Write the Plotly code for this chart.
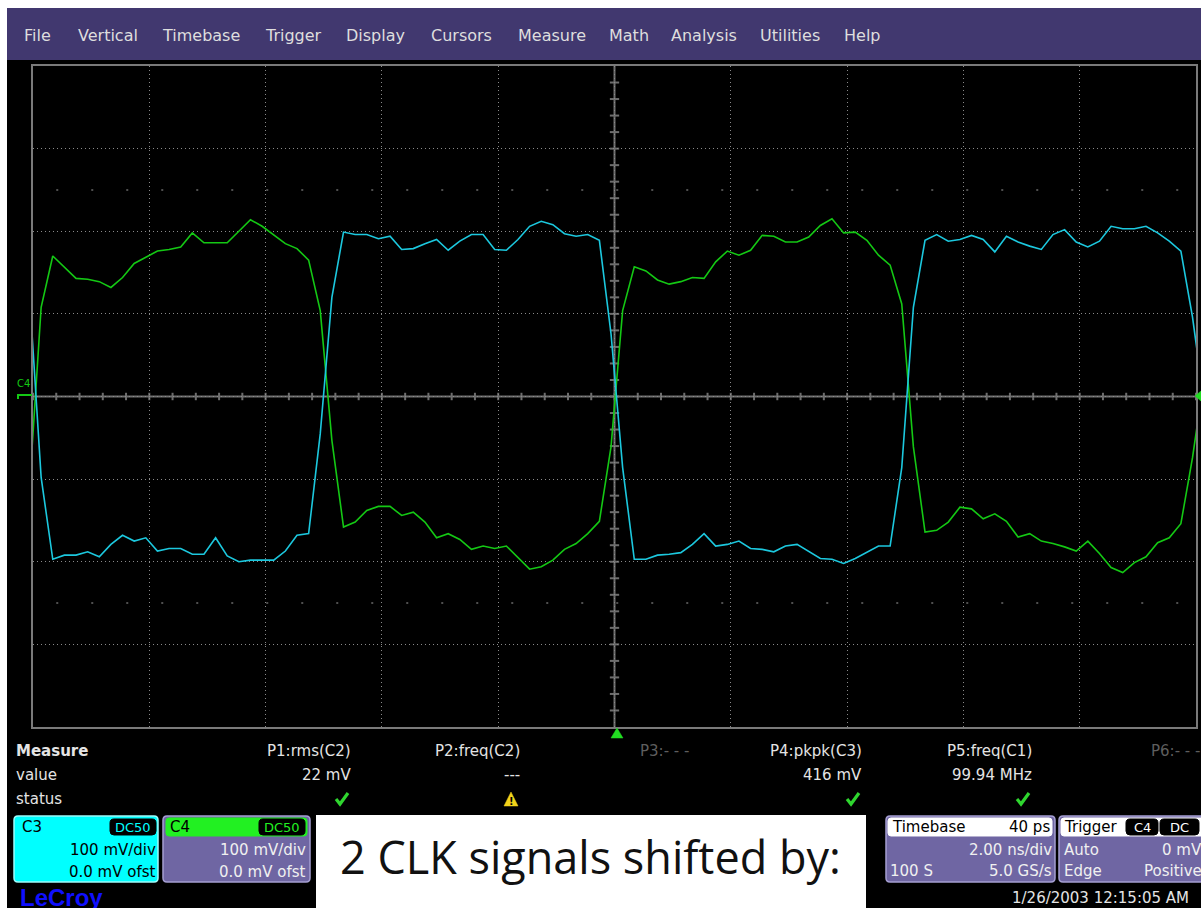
import plotly.graph_objects as go

W, H = 1201, 908

# ---- acquisition: 5 GS/s, 0.2 ns per sample, first sample sits just left of the screen
T_FIRST_NS = -10.06
T_STEP_NS = 0.2

# C3 (cyan) samples in mV
c3_mv = [124,
         -98, -197, -192, -192, -188, -194, -179, -168, -175, -171,
         -187, -184, -184, -191, -191, -171, -193, -200, -198, -198,
         -198, -187, -168, -166, -45, 120, 199, 196, 196, 191,
         194, 178, 179, 185, 190, 177, 188, 196, 196, 178,
         177, 190, 206, 212, 208, 197, 194, 196, 189, 76,
         -86, -197, -197, -192, -191, -189, -179, -166, -181, -179,
         -175, -184, -185, -188, -181, -179, -187, -196, -197, -202,
         -196, -189, -181, -181, -86, 108, 189, 196, 188, 190,
         195, 190, 175, 194, 187, 182, 178, 196, 202, 187,
         181, 188, 206, 203, 203, 206, 198, 188, 176, 96,
         -7]

# C4 (green) samples in mV
c4_mv = [-110,
         108, 170, 157, 143, 142, 139, 132, 144, 161, 169,
         176, 178, 181, 198, 186, 186, 186, 200, 214, 206,
         196, 185, 179, 165, 104, -53, -158, -152, -138, -133,
         -133, -144, -140, -152, -171, -166, -173, -185, -181, -184,
         -181, -195, -209, -206, -198, -185, -178, -166, -151, -61,
         104, 157, 152, 141, 136, 139, 144, 143, 163, 176,
         171, 177, 195, 194, 187, 187, 193, 207, 215, 198,
         199, 189, 171, 159, 112, -61, -164, -162, -152, -134,
         -136, -148, -142, -151, -170, -166, -175, -178, -182, -187,
         -175, -190, -207, -213, -201, -194, -177, -171, -154, -74,
         23]

t_ns = [T_FIRST_NS + T_STEP_NS * i for i in range(len(c3_mv))]

# screen: 10 x 8 divisions, 2 ns/div and 100 mV/div
X_RANGE = [-10, 10]
Y_RANGE = [-400, 400]
# faint dotted reference rows
REF_ROWS_MV = [250, -250]

menu_items = ["File", "Vertical", "Timebase", "Trigger", "Display", "Cursors",
              "Measure", "Math", "Analysis", "Utilities", "Help"]
menu_centers = [37, 108, 201, 293, 375, 461, 552, 629, 704, 790, 862]

param_names = ["P1:rms(C2)", "P2:freq(C2)", "P3:- - -", "P4:pkpk(C3)", "P5:freq(C1)", "P6:- - -"]
param_values = ["22 mV", "---", "", "416 mV", "99.94 MHz", ""]
param_status = ["ok", "warn", "", "ok", "ok", ""]
param_right = [352, 521, 690, 863, 1033, 1201]

GRID_COL = "#8a8a8a"
AXIS_COL = "#6e6e6e"
CYAN = "#1cc8de"
GREEN = "#14c814"
MENU_BG = "#41386f"
PANEL = "#6f66a3"
UI_FONT = "DejaVu Sans"


def fx(x):
    return x / W


def fy(y):
    return 1 - y / H


def P(x, y):
    return f"{fx(x):.5f},{fy(y):.5f}"


shapes = []
annotations = []


def rect(x0, y0, x1, y1, fill, line=None, lw=0, layer="above"):
    shapes.append(dict(type="rect", xref="paper", yref="paper",
                       x0=fx(x0), x1=fx(x1), y0=fy(y1), y1=fy(y0),
                       fillcolor=fill, line=dict(color=line or fill, width=lw),
                       layer=layer))


def rrect(x0, y0, x1, y1, r, fill, line=None, lw=1):
    path = (f"M{P(x0 + r, y0)} L{P(x1 - r, y0)} Q{P(x1, y0)} {P(x1, y0 + r)} "
            f"L{P(x1, y1 - r)} Q{P(x1, y1)} {P(x1 - r, y1)} L{P(x0 + r, y1)} "
            f"Q{P(x0, y1)} {P(x0, y1 - r)} L{P(x0, y0 + r)} Q{P(x0, y0)} {P(x0 + r, y0)} Z")
    shapes.append(dict(type="path", xref="paper", yref="paper", path=path,
                       fillcolor=fill, line=dict(color=line or fill, width=lw),
                       layer="above"))


def poly(points, fill):
    path = "M" + " L".join(P(x, y) for x, y in points) + " Z"
    shapes.append(dict(type="path", xref="paper", yref="paper", path=path,
                       fillcolor=fill, line=dict(color=fill, width=0.5), layer="above"))


def check_mark(cx, cy, color="#2fd62f"):
    path = f"M{P(cx - 6, cy)} L{P(cx - 2, cy + 5)} L{P(cx + 6, cy - 6)}"
    shapes.append(dict(type="path", xref="paper", yref="paper", path=path,
                       line=dict(color=color, width=3.2), layer="above"))


def text(x, y, s, size=15, color="#e4e4e4", anchor="left", family=UI_FONT, yanchor="middle"):
    annotations.append(dict(x=fx(x), y=fy(y), xref="paper", yref="paper", text=s,
                            showarrow=False, xanchor=anchor, yanchor=yanchor,
                            font=dict(family=family, size=size, color=color),
                            borderpad=0))


# ---- page frame
rect(0, 0, W, 8, "#ffffff")
rect(0, 8, W, 60, MENU_BG)
rect(0, 8, 7, H, "#ffffff")
for name, cx in zip(menu_items, menu_centers):
    text(cx, 35, name, size=16, color="#dedede", anchor="center")

# ---- centre axes with 0.2 div ticks
shapes.append(dict(type="line", xref="x", yref="y", x0=X_RANGE[0], x1=X_RANGE[1], y0=0, y1=0,
                   line=dict(color=AXIS_COL, width=2), layer="below"))
shapes.append(dict(type="line", xref="x", yref="y", x0=0, x1=0, y0=Y_RANGE[0], y1=Y_RANGE[1],
                   line=dict(color=AXIS_COL, width=2), layer="below"))
for i in range(-49, 50):
    tx = i * 0.4
    shapes.append(dict(type="line", xref="x", yref="y", x0=tx, x1=tx, y0=-4.5, y1=4.5,
                       line=dict(color=AXIS_COL, width=2), layer="below"))
for i in range(-19, 20):
    ty = i * 20
    shapes.append(dict(type="line", xref="x", yref="y", x0=-0.08, x1=0.08, y0=ty, y1=ty,
                       line=dict(color=AXIS_COL, width=2), layer="below"))
for ry in REF_ROWS_MV:
    shapes.append(dict(type="line", xref="x", yref="y", x0=X_RANGE[0] + 0.4, x1=X_RANGE[1], y0=ry, y1=ry,
                       line=dict(color="#6a6a6a", width=1.5, dash="2px,33px"), layer="below"))

# ---- channel level marker (C4) on the left, trigger markers
text(23, 383, "C4", size=10, color=GREEN, anchor="center")
shapes.append(dict(type="path", xref="paper", yref="paper",
                   path=f"M{P(18, 399)} L{P(18, 395)} L{P(32, 395)}",
                   line=dict(color=GREEN, width=2), layer="above"))
poly([(611, 738), (623, 738), (617, 728)], "#22dd22")
poly([(1201, 391), (1201, 401), (1195, 396)], "#22dd22")

# ---- measurement table
text(15, 751, "<b>Measure</b>", size=15)
text(15, 775, "value", size=15)
text(15, 799, "status", size=15)
for name, val, st, xr in zip(param_names, param_values, param_status, param_right):
    dim = name.endswith("- - -")
    text(xr, 751, name, size=15, color="#5e5e5e" if dim else "#e4e4e4", anchor="right")
    if val:
        text(xr, 775, val, size=15, anchor="right")
    if st == "ok":
        check_mark(xr - 10, 799)
    elif st == "warn":
        poly([(504, 806), (518, 806), (511, 792)], "#f2d21a")
        text(511, 801, "<b>!</b>", size=10, color="#000000", anchor="center")

# ---- channel descriptor boxes
rrect(14, 816, 158, 882, 4, "#00ffff", "#9ffcfc", 1.5)
text(21, 827, "C3", size=15, color="#000000")
rrect(110, 819, 156, 835, 4, "#000000")
text(133, 827, "DC50", size=13, color="#00ffff", anchor="center")
text(157, 850, "100 mV/div", size=15, color="#000000", anchor="right")
text(157, 872, "0.0 mV ofst", size=15, color="#000000", anchor="right")

rrect(163, 816, 310, 882, 4, PANEL, "#a59fd2", 1.5)
rrect(166, 818, 307, 836, 3, "#22f022")
text(169, 827, "C4", size=15, color="#000000")
rrect(259, 819, 305, 835, 4, "#000000")
text(282, 827, "DC50", size=13, color="#22f022", anchor="center")
text(307, 850, "100 mV/div", size=15, color="#f0f0f0", anchor="right")
text(307, 872, "0.0 mV ofst", size=15, color="#f0f0f0", anchor="right")

text(19, 897, "<b>LeCroy</b>", size=24, color="#1010ff", family="Liberation Sans")

# ---- timebase / trigger boxes
rrect(886, 816, 1055, 882, 4, PANEL, "#a59fd2", 1.5)
rrect(888, 818, 1052, 836, 3, "#ffffff")
text(891, 827, "Timebase", size=15, color="#000000")
text(1051, 827, "40 ps", size=15, color="#000000", anchor="right")
text(1053, 850, "2.00 ns/div", size=15, color="#f0f0f0", anchor="right")
text(889, 871, "100 S", size=15, color="#f0f0f0")
text(1053, 871, "5.0 GS/s", size=15, color="#f0f0f0", anchor="right")

rrect(1059, 816, 1215, 882, 4, PANEL, "#a59fd2", 1.5)
rrect(1061, 818, 1212, 836, 3, "#ffffff")
text(1063, 827, "Trigger", size=15, color="#000000")
rrect(1126, 819, 1158, 835, 4, "#000000")
text(1142, 827, "C4", size=13, color="#ffffff", anchor="center")
rrect(1160, 819, 1199, 835, 4, "#000000")
text(1179, 827, "DC", size=13, color="#ffffff", anchor="center")
text(1063, 850, "Auto", size=15, color="#f0f0f0")
text(1203, 850, "0 mV", size=15, color="#f0f0f0", anchor="right")
text(1063, 871, "Edge", size=15, color="#f0f0f0")
text(1203, 871, "Positive", size=15, color="#f0f0f0", anchor="right")

text(1100, 898, "1/26/2003 12:15:05 AM", size=15, color="#e4e4e4", anchor="center")

# ---- caption box
rect(316, 815, 866, H + 2, "#ffffff")
text(590, 856, "2 CLK signals shifted by:", size=45, color="#111111", anchor="center",
     family="Open Sans")

# ---- waveforms
fig = go.Figure()
fig.add_trace(go.Scatter(x=t_ns, y=c4_mv, mode="lines", name="C4",
                         line=dict(color=GREEN, width=1.6), hoverinfo="skip"))
fig.add_trace(go.Scatter(x=t_ns, y=c3_mv, mode="lines", name="C3",
                         line=dict(color=CYAN, width=1.6), hoverinfo="skip"))

fig.update_layout(
    width=W, height=H,
    margin=dict(l=0, r=0, t=0, b=0),
    paper_bgcolor="#000000",
    plot_bgcolor="#000000",
    showlegend=False,
    shapes=shapes,
    annotations=annotations,
    xaxis=dict(domain=[fx(33), fx(1196)], range=X_RANGE, dtick=2, tick0=0,
               showticklabels=False, ticks="", zeroline=False,
               showgrid=True, gridcolor=GRID_COL, gridwidth=1, griddash="1px,3px",
               showline=True, linecolor="#7a7a7a", linewidth=1.5, mirror=True,
               fixedrange=True),
    yaxis=dict(domain=[fy(727), fy(66)], range=Y_RANGE, dtick=100, tick0=0,
               showticklabels=False, ticks="", zeroline=False,
               showgrid=True, gridcolor=GRID_COL, gridwidth=1, griddash="1px,3px",
               showline=True, linecolor="#7a7a7a", linewidth=1.5, mirror=True,
               fixedrange=True),
)

fig.write_html("out.html")
